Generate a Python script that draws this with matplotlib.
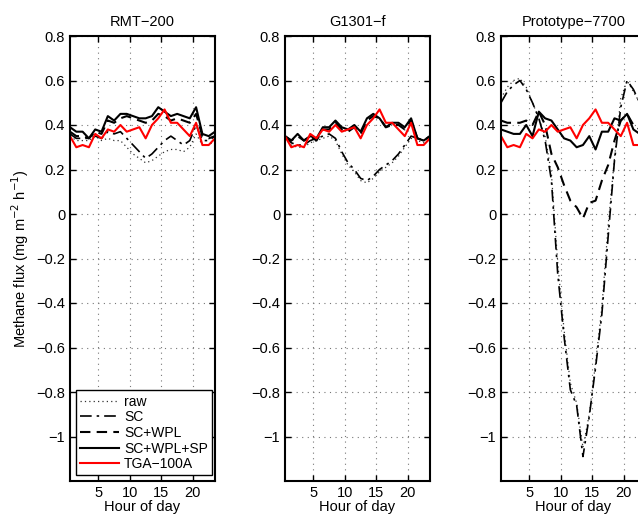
import numpy as np
import matplotlib
matplotlib.use('Agg')
import matplotlib.pyplot as plt
from matplotlib.ticker import FuncFormatter

plt.rcParams['font.family'] = ['Liberation Sans', 'DejaVu Sans']
plt.rcParams['font.size'] = 10

# hour of day (centre of each hourly bin)
hours = np.arange(0.5, 24, 1.0)

titles = ['RMT\u2212200', 'G1301\u2212f', 'Prototype\u22127700']
labels = ['raw', 'SC', 'SC+WPL', 'SC+WPL+SP', 'TGA\u2212100A']

# reference instrument, same in every panel
tga = [0.35, 0.30, 0.31, 0.30, 0.36, 0.34, 0.38, 0.37, 0.40, 0.37, 0.38, 0.39,
       0.34, 0.40, 0.43, 0.47, 0.41, 0.41, 0.38, 0.35, 0.41, 0.31, 0.31, 0.34]

# RMT-200
rmt_raw = [0.35, 0.33, 0.33, 0.33, 0.35, 0.33, 0.34, 0.33, 0.33, 0.30, 0.27, 0.25,
           0.23, 0.24, 0.26, 0.28, 0.29, 0.29, 0.28, 0.30, 0.36, 0.31, 0.31, 0.33]
rmt_sc = [0.36, 0.34, 0.34, 0.34, 0.35, 0.34, 0.37, 0.36, 0.37, 0.34, 0.31, 0.28,
          0.25, 0.27, 0.30, 0.33, 0.35, 0.33, 0.31, 0.33, 0.40, 0.33, 0.33, 0.35]
rmt_wpl = [0.37, 0.35, 0.35, 0.34, 0.37, 0.36, 0.42, 0.41, 0.43, 0.44, 0.43, 0.42,
           0.41, 0.42, 0.45, 0.44, 0.42, 0.43, 0.42, 0.41, 0.45, 0.35, 0.34, 0.35]
rmt_sp = [0.39, 0.37, 0.37, 0.34, 0.38, 0.37, 0.44, 0.42, 0.45, 0.45, 0.44, 0.43,
          0.43, 0.44, 0.48, 0.46, 0.44, 0.45, 0.44, 0.43, 0.48, 0.36, 0.35, 0.37]

# G1301-f
g_raw = [0.34, 0.31, 0.30, 0.30, 0.32, 0.33, 0.34, 0.35, 0.33, 0.27, 0.22, 0.19,
         0.15, 0.14, 0.16, 0.19, 0.21, 0.23, 0.26, 0.30, 0.34, 0.33, 0.32, 0.34]
g_sc = [0.35, 0.32, 0.31, 0.31, 0.33, 0.34, 0.35, 0.36, 0.34, 0.28, 0.23, 0.20,
        0.16, 0.15, 0.17, 0.20, 0.22, 0.24, 0.27, 0.31, 0.35, 0.34, 0.33, 0.35]
g_wpl = [0.35, 0.33, 0.35, 0.33, 0.35, 0.33, 0.38, 0.38, 0.41, 0.38, 0.37, 0.39,
         0.36, 0.42, 0.44, 0.43, 0.39, 0.40, 0.40, 0.38, 0.42, 0.34, 0.33, 0.35]
g_sp = [0.35, 0.33, 0.36, 0.33, 0.35, 0.34, 0.39, 0.39, 0.42, 0.39, 0.38, 0.40,
        0.37, 0.43, 0.45, 0.43, 0.39, 0.41, 0.41, 0.39, 0.43, 0.34, 0.33, 0.35]

# Prototype-7700
p_raw = [0.52, 0.57, 0.60, 0.61, 0.57, 0.50, 0.43, 0.35, 0.18, -0.22, -0.52, -0.76,
         -0.85, -1.05, -0.90, -0.67, -0.42, -0.05, 0.25, 0.52, 0.60, 0.55, 0.50, 0.46]
p_sc = [0.50, 0.55, 0.58, 0.60, 0.56, 0.50, 0.43, 0.33, 0.15, -0.27, -0.55, -0.79,
        -0.86, -1.09, -0.91, -0.69, -0.45, -0.10, 0.24, 0.48, 0.60, 0.56, 0.50, 0.45]
p_wpl = [0.42, 0.41, 0.41, 0.41, 0.42, 0.40, 0.46, 0.40, 0.27, 0.21, 0.13, 0.06,
         0.03, -0.02, 0.05, 0.06, 0.15, 0.22, 0.33, 0.42, 0.45, 0.40, 0.38, 0.38]
p_sp = [0.38, 0.37, 0.36, 0.36, 0.40, 0.35, 0.46, 0.43, 0.42, 0.38, 0.34, 0.33,
        0.30, 0.31, 0.35, 0.29, 0.37, 0.37, 0.43, 0.42, 0.45, 0.38, 0.36, 0.37]

panels = [
    [rmt_raw, rmt_sc, rmt_wpl, rmt_sp, tga],
    [g_raw, g_sc, g_wpl, g_sp, tga],
    [p_raw, p_sc, p_wpl, p_sp, tga],
]

styles = [
    dict(color='#333333', linestyle=(0, (1, 2.5)), linewidth=0.9),
    dict(color='black', linestyle=(0, (7, 3, 1.5, 3)), linewidth=1.2),
    dict(color='black', linestyle=(0, (5, 3)), linewidth=1.5),
    dict(color='black', linestyle='-', linewidth=1.5),
    dict(color='red', linestyle='-', linewidth=1.5),
]

fig = plt.figure(figsize=(6.38, 5.17), dpi=100)
W, H = 638.0, 517.0
lefts = [70, 285, 501]
yticks = [0.8, 0.6, 0.4, 0.2, 0, -0.2, -0.4, -0.6, -0.8, -1]

for i, (left, data) in enumerate(zip(lefts, panels)):
    ax = fig.add_axes([left / W, 36 / H, 145 / W, 445 / H])
    for series, lab, st in zip(data, labels, styles):
        ax.plot(hours, series, label=lab, **st)
    ax.set_xlim(0.5, 23.5)
    ax.set_ylim(-1.2, 0.8)
    ax.set_xticks([5, 10, 15, 20])
    ax.set_yticks(yticks)
    ax.yaxis.set_major_formatter(FuncFormatter(lambda v, p: ('%g' % round(v, 2)).replace('-', '\u2212')))
    ax.grid(True, linestyle=(0, (1, 4)), color='#777777', linewidth=0.8)
    ax.tick_params(direction='in', top=True, right=True, length=4, width=1, labelsize=10.5)
    for s in ax.spines.values():
        s.set_linewidth(1.5)
    ax.set_title(titles[i], fontsize=10.5, pad=7)
    ax.set_xlabel('Hour of day', fontsize=10.5, labelpad=0)
    if i == 0:
        ax.set_ylabel('Methane flux (mg m$^{-2}$ h$^{-1}$)', fontsize=10.5)
        leg = ax.legend(loc='lower left', fontsize=10, handlelength=2.8,
                        fancybox=False, edgecolor='black', framealpha=1,
                        borderaxespad=0.4, labelspacing=0.12, handletextpad=0.4,
                        borderpad=0.3)
        leg.get_frame().set_linewidth(1.0)

fig.savefig('out.png', dpi=100)
